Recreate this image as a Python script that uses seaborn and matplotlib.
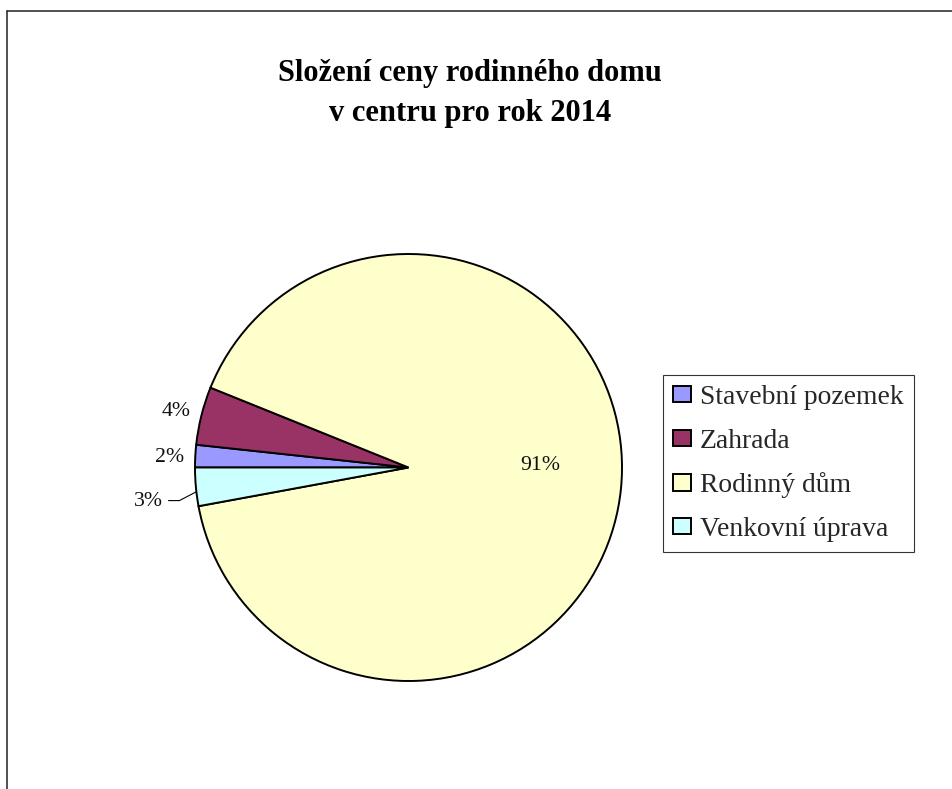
import matplotlib
matplotlib.use("Agg")
import matplotlib.pyplot as plt
from matplotlib.lines import Line2D
import numpy as np
import seaborn as sns

# Price composition (share of total, %)
categories = ["Stavební pozemek", "Zahrada", "Rodinný dům", "Venkovní úprava"]
shares = [1.7, 4.4, 91.0, 2.9]
slice_colors = ["#9999FF", "#993366", "#FFFFCC", "#CCFFFF"]
title_lines = ["Složení ceny rodinného domu", "v centru pro rok 2014"]

sns.set_theme(style="white")
plt.rcParams["font.family"] = ["Liberation Serif", "DejaVu Serif"]

W, H, DPI = 953, 789, 100
fig = plt.figure(figsize=(W / DPI, H / DPI), dpi=DPI, facecolor="white")

# Pie centre and radius in pixels
cx, cy, r = 408.5, 467.5, 213.5
ax = fig.add_axes([(cx - r) / W, 1 - (cy + r) / H, 2 * r / W, 2 * r / H])

palette = sns.color_palette(slice_colors)
wedges, texts, autotexts = ax.pie(
    shares,
    colors=palette,
    startangle=180,
    counterclock=False,
    autopct="%.0f%%",
    pctdistance=1.12,
    wedgeprops=dict(edgecolor="black", linewidth=1.4),
    textprops=dict(fontsize=15.7, color="#111111"),
)
ax.set_xlim(-1, 1)
ax.set_ylim(-1, 1)
ax.set_aspect("equal")


def nudge(t, dy):
    x, y = t.get_position()
    t.set_position((x, y + dy))


# Main share sits inside its slice
autotexts[2].set_position((0.618, 0.008))
nudge(autotexts[1], -0.01)
nudge(autotexts[0], -0.014)

# Outside label with a leader line for the outdoor works slice
w = wedges[3]
mid = np.deg2rad((w.theta1 + w.theta2) / 2 + 1.3)
ex, ey = np.cos(mid), np.sin(mid)
ly = -0.155
autotexts[3].set_position((-1.148, ly - 0.006))
autotexts[3].set_ha("right")
ax.plot([-1.124, -1.073, ex], [ly, ly, ey], color="black",
        linewidth=0.8, clip_on=False)

# Two-line title
for text, ypix in zip(title_lines, [73, 113]):
    fig.text(470 / W, 1 - ypix / H, text, ha="center", va="center",
             fontsize=22, fontweight="bold", color="black")

# Legend
leg = fig.legend(
    wedges, categories,
    loc="upper left",
    bbox_to_anchor=(663 / W, 1 - 375 / H),
    bbox_transform=fig.transFigure,
    fontsize=19.9,
    frameon=True,
    fancybox=False,
    borderpad=0.36,
    handlelength=0.65,
    handleheight=0.54,
    handletextpad=0.33,
    labelspacing=0.675,
    borderaxespad=0,
)
leg.get_frame().set_edgecolor("black")
leg.get_frame().set_linewidth(0.8)
for h in leg.legend_handles:
    h.set_linewidth(1.4)
    h.set_edgecolor("black")

# Chart area border (top and left edges)
fig.add_artist(Line2D([7 / W, 1], [1 - 11 / H, 1 - 11 / H], color="#222222",
                      linewidth=1.1, transform=fig.transFigure))
fig.add_artist(Line2D([7 / W, 7 / W], [0, 1 - 11 / H], color="#222222",
                      linewidth=1.1, transform=fig.transFigure))

fig.savefig("out.png", dpi=DPI, facecolor="white")
